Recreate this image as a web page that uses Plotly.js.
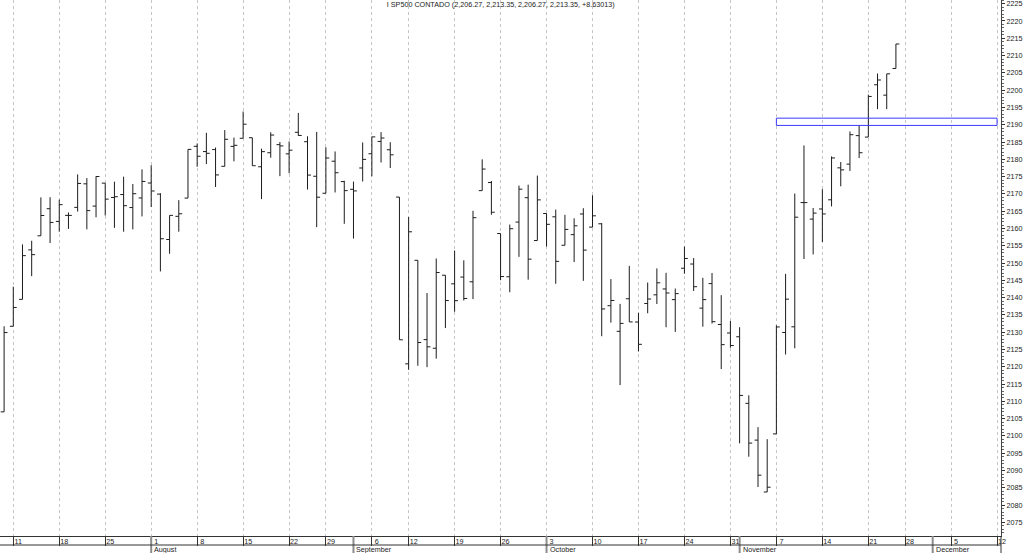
<!DOCTYPE html>
<html><head><meta charset="utf-8">
<script src="https://cdn.plot.ly/plotly-3.0.1.min.js"></script>
<style>html,body{margin:0;padding:0;background:#fff;}#chart{width:1024px;height:553px;}</style>
</head><body><div id="chart"></div>
<script>
// ---- data ----
const dates = [
'2016-07-08',
'2016-07-11','2016-07-12','2016-07-13','2016-07-14','2016-07-15',
'2016-07-18','2016-07-19','2016-07-20','2016-07-21','2016-07-22',
'2016-07-25','2016-07-26','2016-07-27','2016-07-28','2016-07-29',
'2016-08-01','2016-08-02','2016-08-03','2016-08-04','2016-08-05',
'2016-08-08','2016-08-09','2016-08-10','2016-08-11','2016-08-12',
'2016-08-15','2016-08-16','2016-08-17','2016-08-18','2016-08-19',
'2016-08-22','2016-08-23','2016-08-24','2016-08-26',
'2016-08-29','2016-08-30','2016-08-31','2016-09-01','2016-09-02',
'2016-09-06','2016-09-07','2016-09-08','2016-09-09',
'2016-09-12','2016-09-13','2016-09-14','2016-09-15','2016-09-16',
'2016-09-19','2016-09-20','2016-09-21','2016-09-22','2016-09-23',
'2016-09-26','2016-09-27','2016-09-28','2016-09-29','2016-09-30',
'2016-10-03','2016-10-04','2016-10-05','2016-10-06','2016-10-07',
'2016-10-10','2016-10-11','2016-10-12','2016-10-13','2016-10-14',
'2016-10-17','2016-10-18','2016-10-19','2016-10-20','2016-10-21',
'2016-10-24','2016-10-25','2016-10-26','2016-10-27','2016-10-28',
'2016-10-31','2016-11-01','2016-11-02','2016-11-03','2016-11-04',
'2016-11-07','2016-11-08','2016-11-09','2016-11-10','2016-11-11',
'2016-11-14','2016-11-15','2016-11-16','2016-11-17','2016-11-18',
'2016-11-21','2016-11-22','2016-11-23','2016-11-25'
];
const openVals = [
2106.97,
2131.72,2139.50,2153.81,2157.88,2165.71,
2162.04,2163.79,2166.10,2172.91,2166.47,
2173.11,2168.97,2169.81,2166.05,2168.83,
2173.15,2169.94,2156.81,2163.51,2168.79,
2183.76,2182.24,2182.81,2177.97,2183.74,
2186.08,2186.24,2177.84,2181.90,2184.24,
2181.58,2187.81,2185.09,2175.10,
2170.19,2179.45,2173.56,2171.33,2177.49,
2181.61,2185.17,2182.76,2169.08,
2120.86,2150.80,2127.86,2125.36,2146.48,
2143.99,2145.94,2144.58,2170.94,2173.29,
2158.54,2146.04,2161.85,2168.90,2156.51,
2164.33,2163.37,2155.15,2158.22,2164.19,
2160.39,2161.35,2137.67,2130.26,2139.68,
2132.95,2138.31,2140.81,2142.51,2139.43,
2148.50,2149.72,2136.97,2144.06,2132.23,
2129.78,2128.68,2109.43,2098.80,2083.79,
2100.59,2129.92,2131.56,2167.49,2162.71,
2165.64,2168.29,2177.53,2178.61,2186.85,
2186.43,2201.56,2198.55,2206.27
];
const highVals = [
2131.71,
2143.16,2155.40,2156.45,2168.99,2169.05,
2168.35,2164.63,2175.63,2174.56,2175.11,
2173.11,2173.54,2174.98,2172.85,2177.09,
2178.29,2170.20,2163.79,2168.19,2182.87,
2184.60,2187.66,2183.41,2188.45,2186.28,
2193.81,2186.24,2183.08,2187.81,2185.00,
2185.15,2193.42,2186.66,2187.94,
2183.48,2182.27,2173.79,2173.56,2184.87,
2186.57,2187.87,2184.94,2169.08,
2163.30,2150.80,2141.33,2151.31,2146.48,
2153.61,2150.80,2165.11,2179.99,2173.75,
2158.54,2161.13,2172.40,2172.67,2175.30,
2164.33,2165.46,2163.95,2162.93,2165.86,
2169.60,2161.56,2145.36,2138.19,2149.19,
2135.61,2144.38,2148.44,2147.18,2142.63,
2154.79,2151.44,2145.73,2147.13,2140.72,
2133.25,2131.45,2111.76,2102.56,2099.07,
2132.00,2146.87,2170.10,2184.00,2165.92,
2171.36,2180.84,2179.22,2188.06,2189.89,
2198.70,2204.80,2204.72,2213.35
];
const lowVals = [
2106.97,
2131.72,2139.50,2146.21,2157.88,2155.79,
2159.07,2159.87,2164.89,2159.75,2163.24,
2163.74,2160.18,2159.07,2159.74,2163.49,
2166.21,2147.58,2152.70,2159.07,2168.79,
2177.85,2178.61,2172.00,2177.97,2179.42,
2186.08,2178.14,2168.50,2180.46,2175.13,
2175.96,2186.80,2171.25,2160.39,
2170.19,2170.41,2161.35,2157.09,2173.59,
2175.10,2179.07,2177.49,2127.81,
2119.12,2120.30,2119.90,2122.36,2131.20,
2135.91,2139.17,2139.57,2170.94,2163.97,
2145.04,2141.55,2151.79,2145.20,2156.51,
2154.77,2144.01,2155.15,2150.28,2144.85,
2160.39,2128.84,2132.77,2114.72,2132.98,
2124.43,2135.49,2138.15,2131.44,2130.09,
2146.91,2141.93,2131.59,2132.52,2119.36,
2125.53,2097.85,2094.00,2085.23,2083.79,
2100.59,2123.56,2125.35,2151.17,2152.49,
2156.08,2166.38,2172.20,2176.65,2180.38,
2186.43,2194.51,2194.51,2206.27
];
const closeVals = [
2129.90,
2137.16,2152.14,2152.43,2163.75,2161.74,
2166.89,2163.78,2173.02,2165.17,2175.03,
2168.48,2169.18,2166.58,2170.06,2173.60,
2170.84,2157.03,2163.79,2164.25,2182.87,
2180.89,2181.74,2175.49,2185.79,2184.05,
2190.15,2178.15,2182.22,2187.02,2183.87,
2182.64,2186.90,2175.44,2169.04,
2180.38,2176.12,2170.95,2170.86,2179.98,
2186.48,2186.16,2181.30,2127.81,
2159.04,2127.02,2125.77,2147.26,2139.16,
2139.12,2139.76,2163.12,2177.18,2164.69,
2146.10,2159.93,2171.37,2151.13,2168.27,
2161.20,2150.49,2159.73,2160.77,2153.74,
2163.66,2136.73,2139.18,2132.55,2132.98,
2126.50,2139.60,2144.29,2141.34,2141.16,
2151.33,2143.16,2139.43,2133.04,2126.41,
2126.15,2111.72,2097.94,2088.66,2085.18,
2131.52,2139.56,2163.26,2167.48,2164.45,
2164.20,2180.39,2176.94,2187.12,2181.90,
2198.18,2202.94,2204.72,2213.35
];
// empty trading days shown at the right of the axis
const futureDates = ['2016-11-28','2016-11-29','2016-11-30','2016-12-01','2016-12-02',
  '2016-12-05','2016-12-06','2016-12-07','2016-12-08','2016-12-09','2016-12-12','2016-12-13'];
const weekTicks = ['2016-07-11','2016-07-18','2016-07-25','2016-08-01','2016-08-08','2016-08-15',
  '2016-08-22','2016-08-29','2016-09-06','2016-09-12','2016-09-19','2016-09-26','2016-10-03',
  '2016-10-10','2016-10-17','2016-10-24','2016-10-31','2016-11-07','2016-11-14','2016-11-21',
  '2016-11-28','2016-12-05','2016-12-12'];
const weekLabels = ['11','18','25','1','8','15','22','29','6','12','19','26','3','10','17','24',
  '31','7','14','21','28','5','12'];
const monthStarts = ['2016-08-01','2016-09-01','2016-10-03','2016-11-01','2016-12-01'];
const monthNames = ['August','September','October','November','December'];
const titleText = 'I SP500 CONTADO (2,206.27, 2,213.35, 2,206.27, 2,213.35, +8.63013)';
const zone = {start:'2016-11-07', end:'2016-12-12', low:2189.8, high:2191.9};
const yMin = 2071.07, yMax = 2226.07;

// ---- chart ----
const allDates = dates.concat(futureDates);
const FONT = 'Liberation Sans, Arial, sans-serif';
const plotH = 553 - 17;
const px = v => v / plotH;

const trace = {
  type: 'ohlc', x: dates, open: openVals, high: highVals, low: lowVals, close: closeVals,
  increasing: {line: {color: '#1c1c1c', width: 1}},
  decreasing: {line: {color: '#1c1c1c', width: 1}},
  tickwidth: 0.37, hoverinfo: 'skip', showlegend: false
};

const shapes = [];
monthStarts.forEach(d => shapes.push({type:'line', xref:'x', yref:'paper', x0:d, x1:d,
  y0:0, y1:-px(17), line:{color:'#8c8c8c', width:2}}));
shapes.push({type:'line', xref:'paper', yref:'paper', x0:0, x1:1, y0:-px(9), y1:-px(9),
  line:{color:'#333', width:1}});
shapes.push({type:'line', xref:'paper', yref:'paper', x0:1, x1:1, y0:0, y1:-px(17),
  line:{color:'#333', width:1}});
shapes.push({type:'rect', xref:'x', yref:'y', x0:zone.start, x1:zone.end, y0:zone.low, y1:zone.high,
  line:{color:'#3a3aff', width:1}, fillcolor:'rgba(0,0,0,0)'});

const annotations = monthNames.map((m, i) => ({
  text: m, xref:'x', x: monthStarts[i], yref:'paper', y: -px(13), xanchor:'left', yanchor:'middle',
  xshift: 1, showarrow:false, font:{family:FONT, size:7.2, color:'#222'}
}));

const layout = {
  width: 1024, height: 553,
  margin: {l:0, r:23, t:0, b:17, pad:0},
  paper_bgcolor:'#ffffff', plot_bgcolor:'#ffffff',
  showlegend:false,
  title: {text: titleText, font:{family:FONT, size:7.2, color:'#222'},
    xref:'container', yref:'container', x:0.489, xanchor:'center', y:1-4.5/553, yanchor:'middle'},
  xaxis: {
    type:'category', categoryorder:'array', categoryarray: allDates,
    range:[-0.446, 108.43], autorange:false, fixedrange:true,
    rangeslider:{visible:false},
    tickmode:'array', tickvals: weekTicks, ticktext: weekLabels,
    ticks:'outside', ticklen:9, tickwidth:1, tickcolor:'#333',
    ticklabelshift: 5, ticklabelstandoff: -11,
    tickfont:{family:FONT, size:7.2, color:'#222'},
    showgrid:true, gridcolor:'#c6c6c6', gridwidth:1, griddash:'3px,3px',
    showline:true, linecolor:'#333', linewidth:1, zeroline:false, automargin:false
  },
  yaxis: {
    side:'right', range:[yMin, yMax], autorange:false, fixedrange:true,
    tickmode:'linear', tick0:2075, dtick:5,
    ticks:'outside', ticklen:3, tickwidth:1, tickcolor:'#333',
    ticklabeloverflow:'allow',
    minor:{dtick:1, ticks:'outside', ticklen:2, tickcolor:'#666', showgrid:false},
    tickfont:{family:FONT, size:7.2, color:'#222'},
    showgrid:false, zeroline:false, showline:true, linecolor:'#444', linewidth:1, automargin:false
  },
  shapes: shapes, annotations: annotations
};

Plotly.newPlot('chart', [trace], layout, {staticPlot:true, displayModeBar:false});
</script></body></html>
